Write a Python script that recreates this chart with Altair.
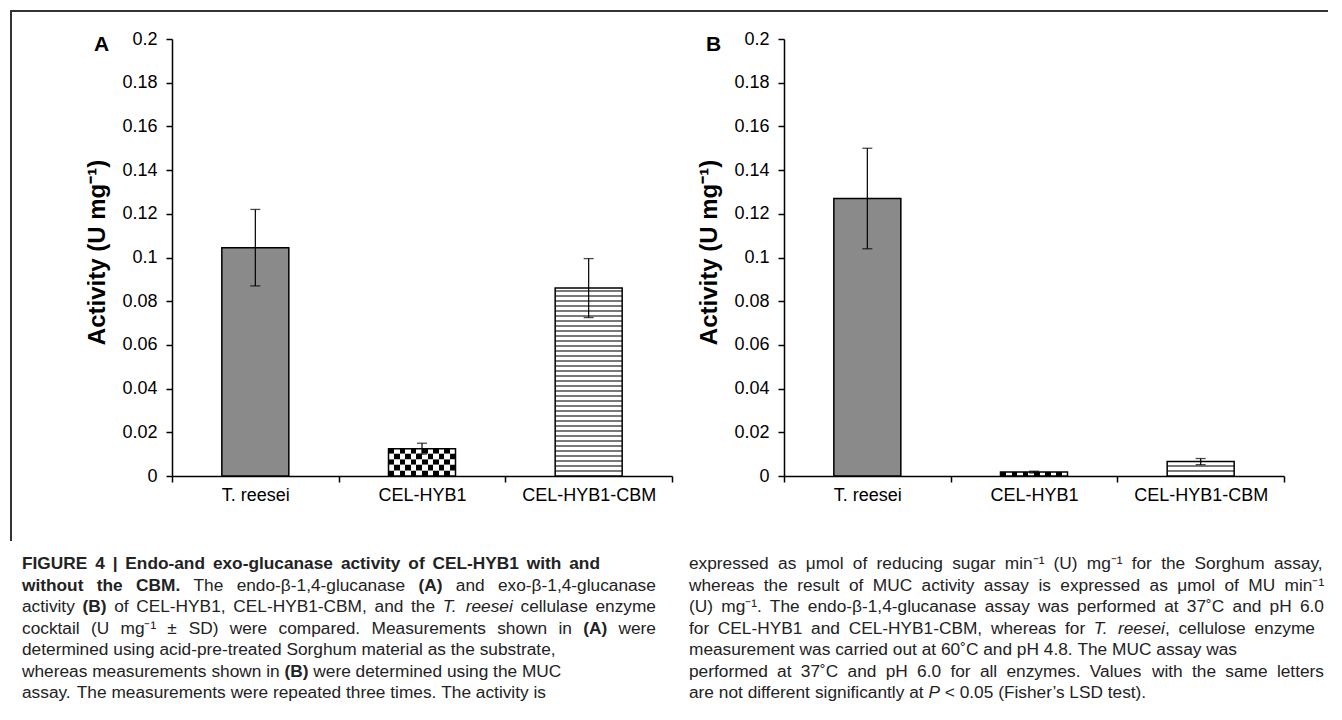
import altair as alt
import pandas as pd

# ---------------- data ----------------
categories = ["T. reesei", "CEL-HYB1", "CEL-HYB1-CBM"]
activity_a = [0.1045, 0.0125, 0.086]
sd_a = [0.0175, 0.0025, 0.0135]
activity_b = [0.127, 0.0018, 0.0066]
sd_b = [0.023, 0.0004, 0.0014]
y_ticks = [0.0, 0.02, 0.04, 0.06, 0.08, 0.1, 0.12, 0.14, 0.16, 0.18, 0.2]
y_title = "Activity (U mg⁻¹)"
panel_letters = ["A", "B"]

caption_left = [
    [("FIGURE 4 | Endo-and exo-glucanase activity of CEL-HYB1 with and", "b")],
    [("without the CBM.", "b"), (" The endo-β-1,4-glucanase ", "n"), ("(A)", "b"),
     (" and exo-β-1,4-glucanase", "n")],
    [("activity ", "n"), ("(B)", "b"), (" of CEL-HYB1, CEL-HYB1-CBM, and the ", "n"),
     ("T. reesei", "i"), (" cellulase enzyme", "n")],
    [("cocktail (U mg⁻¹ ± SD) were compared. Measurements shown in ", "n"), ("(A)", "b"),
     (" were", "n")],
    [("determined using acid-pre-treated Sorghum material as the substrate,", "n")],
    [("whereas measurements shown in ", "n"), ("(B)", "b"),
     (" were determined using the MUC", "n")],
    [("assay. The measurements were repeated three times. The activity is", "n")],
]
caption_right = [
    [("expressed as μmol of reducing sugar min⁻¹ (U) mg⁻¹ for the Sorghum assay,", "n")],
    [("whereas the result of MUC activity assay is expressed as μmol of MU min⁻¹", "n")],
    [("(U) mg⁻¹. The endo-β-1,4-glucanase assay was performed at 37˚C and pH 6.0", "n")],
    [("for CEL-HYB1 and CEL-HYB1-CBM, whereas for ", "n"), ("T. reesei", "i"),
     (", cellulose enzyme", "n")],
    [("measurement was carried out at 60˚C and pH 4.8. The MUC assay was", "n")],
    [("performed at 37˚C and pH 6.0 for all enzymes. Values with the same letters", "n")],
    [("are not different significantly at ", "n"), ("P", "i"),
     (" < 0.05 (Fisher’s LSD test).", "n")],
]

# ---------------- layout / style ----------------
W, H = 500, 437
Y_MAX = 0.2
PX = H / Y_MAX
BAR_W = 67
FONT = "Liberation Sans, Arial, Helvetica, sans-serif"
BAR_FILLS = ["#8a8a8a", "white", "white"]
CAP_FS = 17.3
CAP_LEFT_X, CAP_RIGHT_X = -150, 517
CAP_Y0, CAP_DY = 530, 21.5
JUST_LEFT = [428, 484, 484, 484, None, None, None]
JUST_RIGHT = [1152, 1152, 1152, 1143, None, 1152, None]

# Arial / Liberation Sans advance widths (1/1000 em)
UP = "ABCDEFGHIJKLMNOPQRSTUVWXYZ"
LO = "abcdefghijklmnopqrstuvwxyz"
REG = dict(zip(UP, [667, 667, 722, 722, 667, 611, 778, 722, 278, 500, 667, 556, 833,
                    722, 778, 667, 778, 722, 667, 611, 722, 667, 944, 667, 667, 611]))
REG.update(zip(LO, [556, 556, 500, 556, 556, 278, 556, 556, 222, 222, 500, 222, 833,
                    556, 556, 556, 556, 333, 500, 278, 556, 500, 722, 500, 500, 500]))
REG.update({d: 556 for d in "0123456789"})
REG.update({" ": 278, "(": 333, ")": 333, ",": 278, "-": 333, ".": 278, "|": 260,
            "±": 584, "˚": 333, "β": 575, "μ": 576, "⁻": 333, "¹": 333, "’": 222,
            "<": 584, ":": 278})
BOLD = dict(REG)
BOLD.update(zip(UP, [722, 722, 722, 722, 667, 611, 778, 722, 278, 556, 722, 611, 833,
                     722, 778, 667, 778, 722, 667, 611, 722, 667, 944, 667, 667, 611]))
BOLD.update(zip(LO, [556, 611, 556, 611, 556, 333, 611, 611, 278, 278, 556, 278, 889,
                     611, 611, 611, 611, 389, 556, 333, 611, 556, 778, 556, 556, 500]))
BOLD["|"] = 280


def text_w(s, style):
    table = BOLD if style == "b" else REG
    return sum(table.get(c, 556) for c in s) * CAP_FS / 1000.0


def layout_caption(lines, x0, targets):
    rows = []
    for li, segs in enumerate(lines):
        tokens = []
        pending = False
        for text, style in segs:
            parts = text.split(" ")
            for j, p in enumerate(parts):
                if j > 0:
                    pending = True
                if p == "":
                    continue
                tokens.append([p, style, pending and len(tokens) > 0])
                pending = False
        space = 278 * CAP_FS / 1000.0
        natural = sum(text_w(t[0], t[1]) for t in tokens) + space * sum(1 for t in tokens if t[2])
        gaps = sum(1 for t in tokens if t[2])
        extra = 0.0
        if targets[li] is not None and gaps:
            extra = (targets[li] - x0 - natural) / gaps
        x = x0
        for t in tokens:
            if t[2]:
                x += space + extra
            rows.append({"t": t[0], "style": t[1], "px": x, "py": CAP_Y0 + li * CAP_DY})
            x += text_w(t[0], t[1])
    return rows


cap_rows = layout_caption(caption_left, CAP_LEFT_X, JUST_LEFT) + \
    layout_caption(caption_right, CAP_RIGHT_X, JUST_RIGHT)
cap_df = pd.DataFrame(cap_rows)


def checker_grad(phase, n=12):
    stops = []
    for i in range(n):
        c = "black" if (i + phase) % 2 == 0 else "white"
        stops.append(alt.GradientStop(color=c, offset=i / n))
        stops.append(alt.GradientStop(color=c, offset=(i + 1) / n))
    return alt.LinearGradient(gradient="linear", stops=stops, x1=0, x2=1, y1=0, y2=0)


def panel(vals, sds, letter, decorate):
    df = pd.DataFrame({
        "cat": categories, "val": vals,
        "lo": [v - s for v, s in zip(vals, sds)],
        "hi": [v + s for v, s in zip(vals, sds)],
    })
    xs = alt.Scale(domain=categories, paddingInner=0, paddingOuter=0)
    ys = alt.Scale(domain=[0, Y_MAX], nice=False, zero=True)
    x_axis = alt.Axis(labelAngle=0, labelFont=FONT, labelFontSize=18, labelColor="black",
                      labelPadding=4, tickSize=6, tickWidth=1.5, tickColor="black",
                      domainColor="black", domainWidth=1.5, tickBand="extent", grid=False,
                      title=None)
    y_axis = alt.Axis(values=y_ticks, format=".2~f", labelFont=FONT, labelFontSize=18,
                      labelColor="black", labelPadding=9, tickSize=6, tickWidth=1.5,
                      tickColor="black", domainColor="black", domainWidth=1.5, grid=False,
                      title=y_title, titleFont=FONT, titleFontSize=24, titleFontWeight="bold",
                      titleColor="black", titleX=-75, titleY=213, titleAngle=270,
                      titleAlign="center", titleBaseline="middle")

    def X():
        return alt.X("cat:N", scale=xs, axis=x_axis)

    def Y(f):
        return alt.Y(f, scale=ys, axis=y_axis)

    base = alt.Chart(df).mark_bar(size=BAR_W).encode(
        x=X(), y=Y("val:Q"),
        fill=alt.Fill("cat:N", scale=alt.Scale(domain=categories, range=BAR_FILLS), legend=None),
    )

    # checkerboard rows for CEL-HYB1
    cell = BAR_W / 12 / PX
    v = vals[1]
    rows = []
    k = 0
    while k * cell < v - 1e-9:
        rows.append({"cat": categories[1], "y0": k * cell, "y1": min((k + 1) * cell, v), "par": k % 2})
        k += 1
    chk_df = pd.DataFrame(rows)
    checker = [
        alt.Chart(chk_df).transform_filter(alt.datum.par == p)
        .mark_bar(size=BAR_W, fill=checker_grad(p), strokeWidth=0)
        .encode(x=X(), y=Y("y0:Q"), y2="y1:Q")
        for p in (0, 1)
    ]

    # horizontal stripes for CEL-HYB1-CBM
    step = 5.0 / PX
    v2 = vals[2]
    sv = []
    k = 1
    while k * step < v2 - 0.4 * step:
        sv.append(k * step)
        k += 1
    stripe_df = pd.DataFrame({"cat": [categories[2]] * len(sv), "s": sv})
    stripes = alt.Chart(stripe_df).mark_tick(size=BAR_W, thickness=1.3, color="black").encode(
        x=X(), y=Y("s:Q"))

    outline = alt.Chart(df).mark_bar(size=BAR_W, fill="transparent", stroke="black",
                                     strokeWidth=1.5).encode(x=X(), y=Y("val:Q"))
    err = alt.Chart(df).mark_rule(color="black", strokeWidth=1.2).encode(
        x=X(), y=Y("lo:Q"), y2="hi:Q")
    cap_lo = alt.Chart(df).mark_tick(size=10, thickness=1.3, color="black").encode(x=X(), y=Y("lo:Q"))
    cap_hi = alt.Chart(df).mark_tick(size=10, thickness=1.3, color="black").encode(x=X(), y=Y("hi:Q"))

    letter_txt = alt.Chart(pd.DataFrame({"t": [letter]})).mark_text(
        font=FONT, fontSize=21, fontWeight="bold", color="black", align="left",
        baseline="alphabetic").encode(x=alt.value(-78), y=alt.value(12), text="t:N")

    layers = [base] + checker + [stripes, outline, err, cap_lo, cap_hi, letter_txt]

    if decorate:
        one = pd.DataFrame({"k": [0]})
        frame_left = alt.Chart(one).mark_rule(color="#333333", strokeWidth=2).encode(
            x=alt.value(-161), y=alt.value(-28), y2=alt.value(502))
        frame_top = alt.Chart(one).mark_rule(color="#333333", strokeWidth=2).encode(
            x=alt.value(-162), x2=alt.value(1156), y=alt.value(-28))
        layers += [frame_left, frame_top]
        for style, weight, fstyle in (("n", "normal", "normal"), ("b", "bold", "normal"),
                                      ("i", "normal", "italic")):
            sub = cap_df[cap_df["style"] == style]
            layers.append(
                alt.Chart(sub).mark_text(font=FONT, fontSize=CAP_FS, fontWeight=weight,
                                         fontStyle=fstyle, color="#222222", align="left",
                                         baseline="alphabetic")
                .encode(x=alt.X("px:Q", scale=None),
                        y=alt.Y("py:Q", scale=None), text="t:N"))

    return alt.layer(*layers).properties(width=W, height=H)


panel_a = panel(activity_a, sd_a, panel_letters[0], True)
panel_b = panel(activity_b, sd_b, panel_letters[1], False)

chart = alt.hconcat(panel_a, panel_b, spacing=112, bounds="flush").properties(
    padding={"left": 0, "top": 1, "right": 0, "bottom": 0}
).configure_view(stroke="transparent")

chart.save("out.html", embed_options={"renderer": "svg", "actions": False})
